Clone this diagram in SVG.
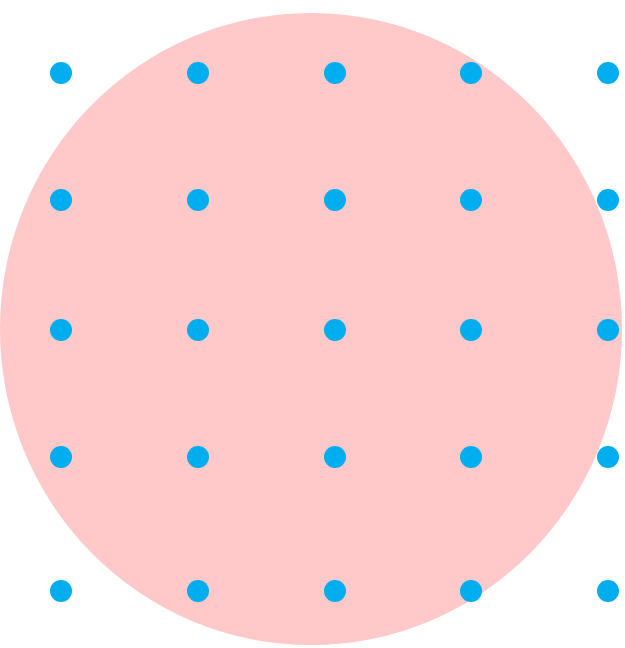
<svg xmlns="http://www.w3.org/2000/svg" width="625" height="648" viewBox="0 0 625 648">
<style>
.bg{fill:#ffffff}
.disc{fill:#ffc8c9}
.dot{fill:#00adee}
</style>
<rect class="bg" x="0" y="0" width="625" height="648"/>
<ellipse id="disc" class="disc" cx="311" cy="329" rx="311" ry="316"/>
<g id="dots">
<circle class="dot" cx="61" cy="73" r="11"/><circle class="dot" cx="198" cy="73" r="11"/><circle class="dot" cx="335" cy="73" r="11"/><circle class="dot" cx="471" cy="73" r="11"/><circle class="dot" cx="608" cy="73" r="11"/>
<circle class="dot" cx="61" cy="200" r="11"/><circle class="dot" cx="198" cy="200" r="11"/><circle class="dot" cx="335" cy="200" r="11"/><circle class="dot" cx="471" cy="200" r="11"/><circle class="dot" cx="608" cy="200" r="11"/>
<circle class="dot" cx="61" cy="330" r="11"/><circle class="dot" cx="198" cy="330" r="11"/><circle class="dot" cx="335" cy="330" r="11"/><circle class="dot" cx="471" cy="330" r="11"/><circle class="dot" cx="608" cy="330" r="11"/>
<circle class="dot" cx="61" cy="457" r="11"/><circle class="dot" cx="198" cy="457" r="11"/><circle class="dot" cx="335" cy="457" r="11"/><circle class="dot" cx="471" cy="457" r="11"/><circle class="dot" cx="608" cy="457" r="11"/>
<circle class="dot" cx="61" cy="591" r="11"/><circle class="dot" cx="198" cy="591" r="11"/><circle class="dot" cx="335" cy="591" r="11"/><circle class="dot" cx="471" cy="591" r="11"/><circle class="dot" cx="608" cy="591" r="11"/>
</g>
</svg>
